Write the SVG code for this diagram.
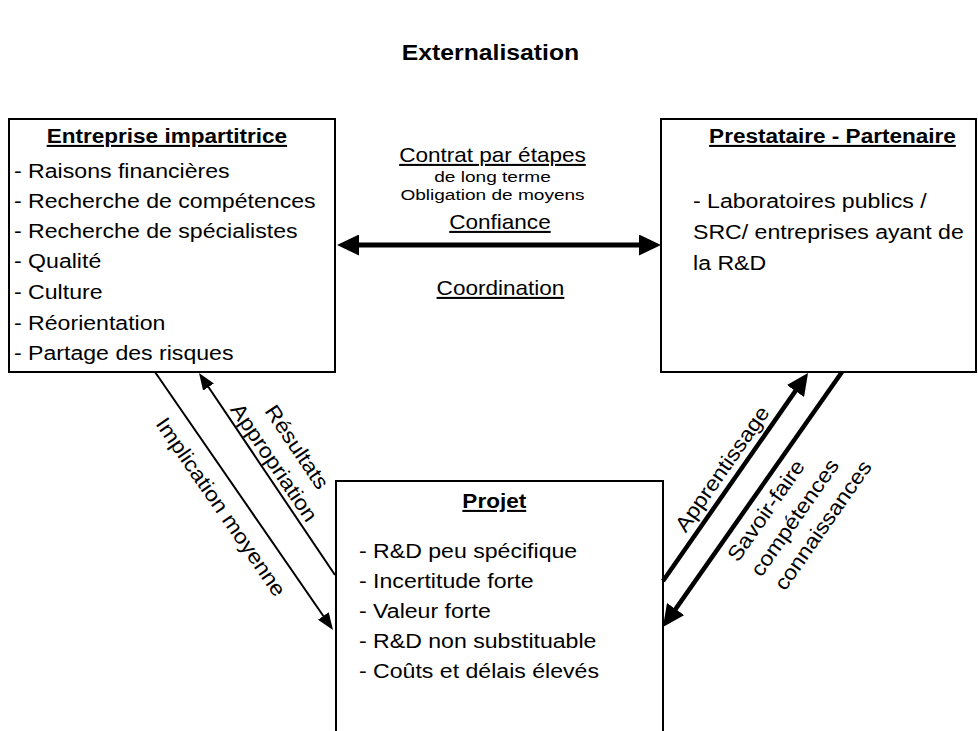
<svg xmlns="http://www.w3.org/2000/svg" width="978" height="731" viewBox="0 0 978 731">
<defs>
<style>
text{font-family:"Liberation Sans",Arial,Helvetica,sans-serif;fill:#000}
.t{font-size:21px}
.b{font-size:20.5px;font-weight:bold;text-decoration:underline}
.u{font-size:20.5px;text-decoration:underline}
.s{font-size:15.5px}
.m{text-anchor:middle}
.box{fill:#fff;stroke:#000;stroke-width:2}
.thin{stroke:#000;stroke-width:2;fill:none}
.thick{stroke:#000;stroke-width:4.5;fill:none}
</style>
<marker id="hBig" markerUnits="userSpaceOnUse" markerWidth="22" markerHeight="21" refX="16" refY="10.5" orient="auto-start-reverse"><path d="M0,0 L22,10.5 L0,21 z" fill="#000"/></marker>
<marker id="hSmall" markerUnits="userSpaceOnUse" markerWidth="17" markerHeight="13" refX="14" refY="6.5" orient="auto"><path d="M0,0 L17,6.5 L0,13 z" fill="#000"/></marker>
</defs>
<rect width="978" height="731" fill="#fff"/>
<text id="title" transform="translate(490.5,60) scale(1.1,1)" class="m" style="font-size:22.5px;font-weight:bold">Externalisation</text>

<g id="entreprise">
<rect class="box" x="9" y="119" width="326" height="253"/>
<g transform="translate(14,0) scale(1.1,1)">
<text class="b m" x="139" y="143">Entreprise impartitrice</text>
<text class="t" x="0" y="178">- Raisons financières</text>
<text class="t" x="0" y="208">- Recherche de compétences</text>
<text class="t" x="0" y="238">- Recherche de spécialistes</text>
<text class="t" x="0" y="268">- Qualité</text>
<text class="t" x="0" y="299">- Culture</text>
<text class="t" x="0" y="330">- Réorientation</text>
<text class="t" x="0" y="360">- Partage des risques</text>
</g>
</g>

<g id="prestataire">
<rect class="box" x="661" y="119" width="315" height="253"/>
<g transform="translate(693,0) scale(1.1,1)">
<text class="b m" x="126.8" y="143">Prestataire - Partenaire</text>
<text class="t" x="0" y="208">- Laboratoires publics /</text>
<text class="t" x="0" y="239">SRC/ entreprises ayant de</text>
<text class="t" x="0" y="270">la R&amp;D</text>
</g>
</g>

<g id="projet">
<rect class="box" x="336" y="481" width="327" height="270"/>
<g transform="translate(359,0) scale(1.1,1)">
<text class="b m" x="123" y="508">Projet</text>
<text class="t" x="0" y="558">- R&amp;D peu spécifique</text>
<text class="t" x="0" y="588">- Incertitude forte</text>
<text class="t" x="0" y="618">- Valeur forte</text>
<text class="t" x="0" y="648">- R&amp;D non substituable</text>
<text class="t" x="0" y="678">- Coûts et délais élevés</text>
</g>
</g>

<g id="connectors">
<line class="thick" x1="343" y1="245" x2="655" y2="245" style="stroke-width:5" marker-start="url(#hBig)" marker-end="url(#hBig)"/>
<line class="thin" x1="155" y1="372" x2="331.3" y2="627.5" marker-end="url(#hSmall)"/>
<line class="thin" x1="335" y1="575" x2="200.7" y2="375.5" marker-end="url(#hSmall)"/>
<line class="thick" x1="663" y1="581" x2="804.6" y2="377.9" marker-end="url(#hBig)"/>
<line class="thick" x1="842" y1="372" x2="666.4" y2="622.1" marker-end="url(#hBig)"/>
</g>

<g id="labels">
<g transform="scale(1.1,1)">
<text class="u m" x="447.7" y="162">Contrat par étapes</text>
<text class="u m" x="454.5" y="229">Confiance</text>
<text class="u m" x="455" y="295">Coordination</text>
</g>
<g transform="translate(492.5,0) scale(1.23,1)">
<text class="s m" x="0" y="182.5">de long terme</text>
<text class="s m" x="0" y="200">Obligation de moyens</text>
</g>
<text class="t m" transform="translate(215,511) rotate(55.4) scale(1.1,1)">Implication moyenne</text>
<g transform="translate(291,451) rotate(56) scale(1.1,1)">
<text class="t m" x="0" y="0">Résultats</text>
<text class="t m" x="0" y="27.5">Appropriation</text>
</g>
<text class="t m" transform="translate(728,473) rotate(-55) scale(1.1,1)">Apprentissage</text>
<g transform="translate(738,563) rotate(-55) scale(1.1,1)">
<text class="t" x="0" y="0">Savoir-faire</text>
<text class="t" x="1" y="27.5">compétences</text>
<text class="t" x="3" y="55">connaissances</text>
</g>
</g>
</svg>
